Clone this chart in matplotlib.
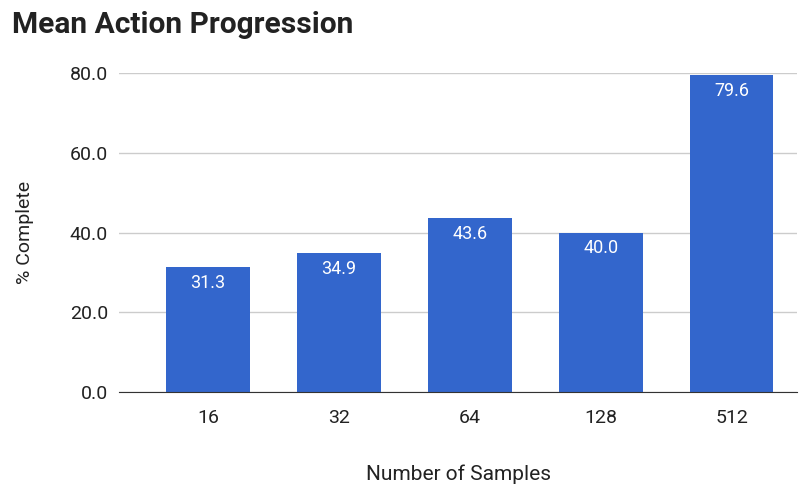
import matplotlib.pyplot as plt

samples = ['16', '32', '64', '128', '512']
complete = [31.3, 34.9, 43.6, 40.0, 79.6]
yticks = [0, 20, 40, 60, 80]

plt.rcParams['font.family'] = ['Roboto', 'DejaVu Sans']

fig = plt.figure(figsize=(8.07, 4.86), dpi=100)
ax = fig.add_axes([0.1475, 0.1934, 0.8401, 0.6564])

x = range(len(samples))
bars = ax.bar(x, complete, width=0.64, color='#3366cc', zorder=3)
for b, v in zip(bars, complete):
    ax.annotate(f'{v:.1f}', (b.get_x() + b.get_width() / 2, v),
                xytext=(0, -5), textcoords='offset points',
                ha='center', va='top', color='white', fontsize=13, zorder=4)

ax.set_xlim(-0.68, 4.5)
ax.set_ylim(0, 80)
ax.set_yticks(yticks)
ax.set_yticklabels([f'{t:.1f}' for t in yticks])
ax.set_xticks(list(x))
ax.set_xticklabels(samples)
ax.tick_params(axis='both', length=0, labelsize=14, labelcolor='#222222')
ax.tick_params(axis='y', pad=8)
ax.tick_params(axis='x', pad=12)
ax.grid(axis='y', color='#cccccc', linewidth=1, zorder=0)
for s in ['top', 'right', 'left']:
    ax.spines[s].set_visible(False)
ax.spines['bottom'].set_color('#333333')
ax.spines['bottom'].set_zorder(5)

ax.set_ylabel('% Complete', fontsize=14, color='#222222', labelpad=26)
ax.set_xlabel('Number of Samples', fontsize=15, color='#222222', labelpad=27)
fig.text(0.015, 0.948, 'Mean Action Progression', fontsize=21.5, fontweight='bold',
         color='#222222', va='center', ha='left')

fig.savefig('out.png', dpi=100)
